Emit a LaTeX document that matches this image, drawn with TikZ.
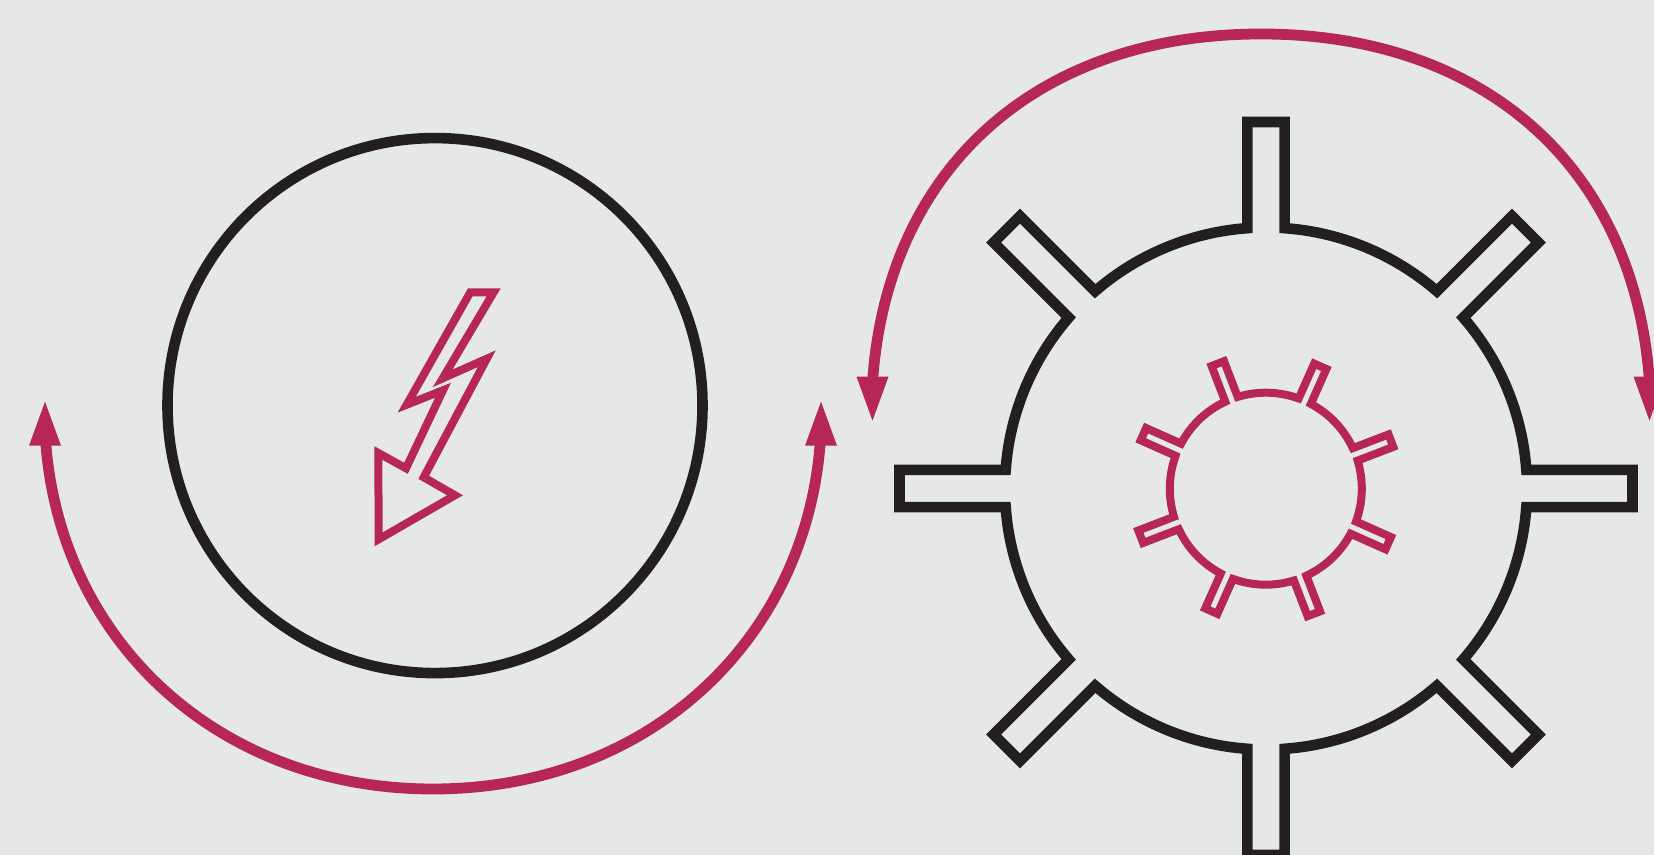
\documentclass[tikz,border=0pt]{standalone}
\definecolor{bgc}{HTML}{E6E7E9}
\definecolor{pinkc}{HTML}{B72755}
\definecolor{darkc}{HTML}{231F20}
\tikzset{
  darkline/.style={draw=darkc,line width=5.3pt,miter limit=10},
  pinkarc/.style={draw=pinkc,line width=5.4pt},
  pinkthin/.style={draw=pinkc,line width=4pt,miter limit=10},
  headfill/.style={fill=pinkc,draw=none}
}
% #1 style, #2 centre, #3 radius, #4 half width, #5 reach, #6 first angle
\newcommand{\gearshape}[6]{%
  \begin{scope}[shift={#2}]
    \pgfmathsetmacro{\gearD}{asin(#4/#3)}
    \pgfmathsetmacro{\gearE}{atan(#4/#5)}
    \pgfmathsetmacro{\gearR}{veclen(#5,#4)}
    \pgfmathsetmacro{\gearS}{#6-\gearD}
    \draw[#1] (\gearS:#3)
      \foreach \k in {0,...,7} {
        -- ({#6+45*\k-\gearE}:\gearR) -- ({#6+45*\k+\gearE}:\gearR) -- ({#6+45*\k+\gearD}:#3)
        arc[start angle={#6+45*\k+\gearD}, end angle={#6+45*\k+45-\gearD}, radius=#3]
      } -- cycle;
  \end{scope}}
\begin{document}
\begin{tikzpicture}[x=0.5pt,y=0.5pt]
  \fill[bgc] (0,0) rectangle (1654,855);
  \useasboundingbox (0,0) rectangle (1654,855);
  \clip (0,0) rectangle (1654,855);
  % left circle
  \draw[darkline] (435,449.4) circle[radius=267.5];
  % bolt
  \draw[pinkthin] (470.3,562.7) -- (493.7,562.7) -- (442.7,476.7) -- (486.8,496.3)
    -- (423.7,377.7) -- (455,359.7) -- (378.7,315.7) -- (378.3,402) -- (406,386.7)
    -- (443,464.7) -- (406.7,450.3) -- cycle;
  % lower arc and heads
  \draw[pinkarc] (45.8,412) .. controls (60.8,214) and (218,66) .. (433,66)
    .. controls (648,66) and (805.2,214) .. (820.2,412);
  \fill[headfill] (45,453.3) -- (29,409.3) -- (61,409.3) -- cycle;
  \fill[headfill] (821,453.3) -- (805,409.3) -- (837,409.3) -- cycle;
  % upper arc and heads
  \draw[pinkarc] (872.7,475) .. controls (887.7,686) and (1036,821) .. (1261,821)
    .. controls (1486,821) and (1634.3,686) .. (1649.3,475);
  \fill[headfill] (872.5,434.3) -- (856.5,478.3) -- (888.5,478.3) -- cycle;
  \fill[headfill] (1649.5,434.3) -- (1633.5,478.3) -- (1665.5,478.3) -- cycle;
  % gears
  \gearshape{darkline}{(1266,366.5)}{261}{18.6}{366.5}{0}
  \gearshape{pinkthin}{(1265.8,366.3)}{96}{6.67}{134}{21}
\end{tikzpicture}
\end{document}
